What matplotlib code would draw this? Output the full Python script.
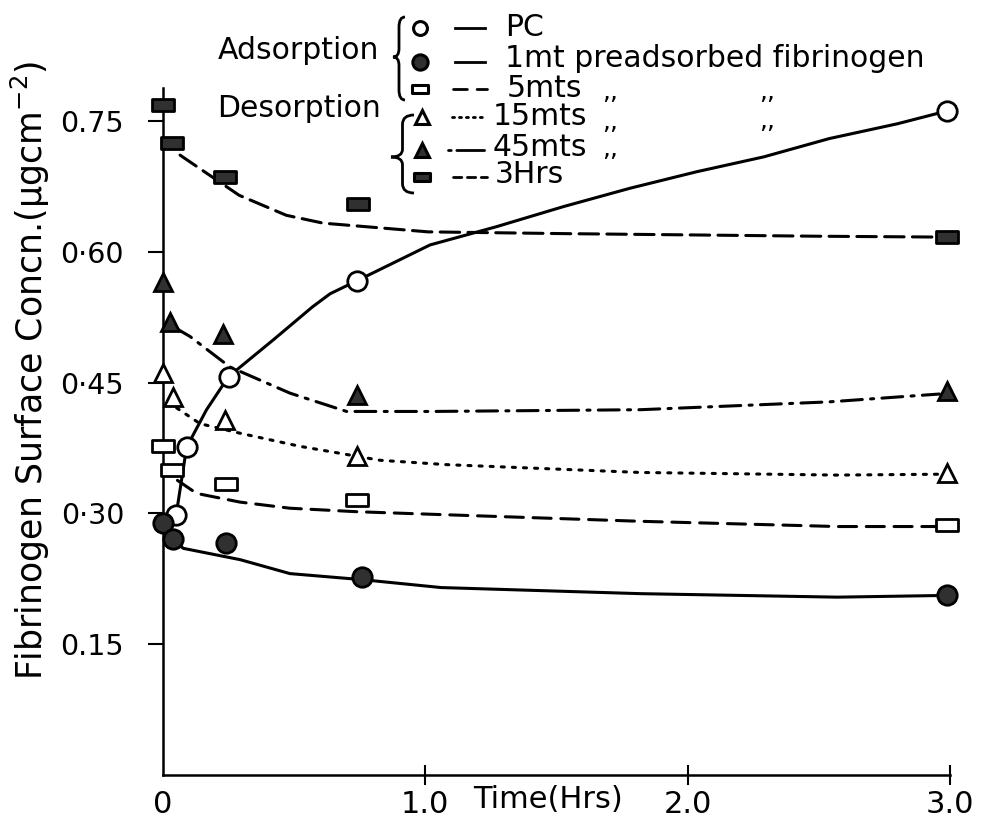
import matplotlib.pyplot as plt
from matplotlib.path import Path
import matplotlib.patches as mpatches

plt.rcParams['font.family'] = 'DejaVu Sans'
plt.rcParams['mathtext.default'] = 'regular'
plt.rcParams['lines.scale_dashes'] = False

# measured points (time in hrs, fibrinogen in ug/cm2)
t_pc = [0.05, 0.09, 0.25, 0.74, 2.99]
v_pc = [0.298, 0.376, 0.457, 0.567, 0.762]
t_1mt = [0.0, 0.039, 0.24, 0.76, 2.99]
v_1mt = [0.289, 0.271, 0.266, 0.227, 0.207]
t_5mts = [0.0, 0.033, 0.24, 0.74, 2.99]
v_5mts = [0.377, 0.350, 0.334, 0.316, 0.287]
t_15mts = [0.0, 0.04, 0.235, 0.74, 2.99]
v_15mts = [0.461, 0.434, 0.407, 0.366, 0.346]
t_45mts = [0.0, 0.027, 0.23, 0.74, 2.99]
v_45mts = [0.566, 0.520, 0.506, 0.436, 0.440]
t_3hrs = [0.0, 0.033, 0.235, 0.745, 2.99]
v_3hrs = [0.768, 0.725, 0.686, 0.655, 0.617]

# hand drawn curves
ct_pc = [0.008, 0.05, 0.09, 0.166, 0.25, 0.42, 0.57, 0.637, 0.74, 1.018, 1.272,
         1.527, 1.78, 2.035, 2.29, 2.54, 2.80, 2.98]
cv_pc = [0.281, 0.298, 0.376, 0.419, 0.457, 0.499, 0.537, 0.552, 0.567, 0.608, 0.629,
         0.652, 0.673, 0.692, 0.709, 0.730, 0.747, 0.761]
ct_1mt = [0.039, 0.077, 0.294, 0.484, 0.761, 1.06, 1.82, 2.57, 2.99]
cv_1mt = [0.271, 0.260, 0.247, 0.231, 0.224, 0.215, 0.208, 0.204, 0.206]
ct_5mts = [0.055, 0.128, 0.294, 0.484, 0.738, 1.03, 1.82, 2.57, 2.96]
cv_5mts = [0.338, 0.323, 0.313, 0.306, 0.302, 0.299, 0.291, 0.285, 0.285]
ct_15mts = [0.052, 0.141, 0.294, 0.522, 0.827, 1.08, 1.82, 2.57, 2.96]
cv_15mts = [0.421, 0.403, 0.392, 0.377, 0.361, 0.356, 0.347, 0.344, 0.345]
ct_45mts = [0.04, 0.103, 0.255, 0.484, 0.70, 1.03, 1.82, 2.54, 2.96]
cv_45mts = [0.514, 0.503, 0.468, 0.438, 0.417, 0.417, 0.419, 0.428, 0.437]
ct_3hrs = [0.065, 0.29, 0.47, 0.61, 1.01, 1.52, 2.49, 2.97]
cv_3hrs = [0.711, 0.665, 0.642, 0.633, 0.623, 0.621, 0.618, 0.617]

labels = ['PC', '1mt preadsorbed fibrinogen', '5mts', '15mts', '45mts', '3Hrs']
yticks = [0.15, 0.30, 0.45, 0.60, 0.75]
ytick_labels = ['0.15', '0·30', '0·45', '0·60', '0.75']
xticks = [0, 1, 2, 3]
xtick_labels = ['0', '1.0', '2.0', '3.0']

rect = Path([(-1, -0.5), (1, -0.5), (1, 0.5), (-1, 0.5), (-1, -0.5)],
            [Path.MOVETO, Path.LINETO, Path.LINETO, Path.LINETO, Path.CLOSEPOLY])
dark = '#303030'
styles = [
    dict(marker='o', ms=14, mfc='white', dashes=None),
    dict(marker='o', ms=14, mfc=dark, dashes=None),
    dict(marker=rect, ms=16, mfc='white', dashes=(13, 7)),
    dict(marker='^', ms=13, mfc='white', dashes=(2.2, 5.8)),
    dict(marker='^', ms=13, mfc=dark, dashes=(15, 6, 2.2, 6)),
    dict(marker=rect, ms=16, mfc=dark, dashes=(14, 6)),
]
points = [(t_pc, v_pc), (t_1mt, v_1mt), (t_5mts, v_5mts),
          (t_15mts, v_15mts), (t_45mts, v_45mts), (t_3hrs, v_3hrs)]
curves = [(ct_pc, cv_pc), (ct_1mt, cv_1mt), (ct_5mts, cv_5mts),
          (ct_15mts, cv_15mts), (ct_45mts, cv_45mts), (ct_3hrs, cv_3hrs)]

fig = plt.figure(figsize=(9.81, 8.23), dpi=100)
ax = fig.add_axes([163 / 981, 1 - 775 / 823, (950 - 163) / 981, (775 - 88) / 823])
ax.set_xlim(0, 3.0)
ax.set_ylim(0, 0.788)

for (ct, cv), (t, v), st in zip(curves, points, styles):
    line, = ax.plot(ct, cv, color='black', lw=2.2, solid_capstyle='round',
                    solid_joinstyle='round', dash_capstyle='round')
    if st['dashes'] is not None:
        line.set_dashes(st['dashes'])
    ax.plot(t, v, ls='none', marker=st['marker'], ms=st['ms'], mfc=st['mfc'],
            mec='black', mew=2.0, clip_on=False, zorder=4)

for side in ['top', 'right']:
    ax.spines[side].set_visible(False)
for side in ['left', 'bottom']:
    ax.spines[side].set_linewidth(1.8)
ax.set_yticks(yticks)
ax.set_yticklabels(ytick_labels)
ax.set_xticks(xticks)
ax.set_xticklabels(xtick_labels)
ax.tick_params(axis='y', direction='out', length=11, width=1.5, pad=17, labelsize=20.5)
ax.tick_params(axis='x', direction='inout', length=14, width=1.5, pad=4, labelsize=22)
ax.xaxis.get_major_ticks()[0].tick1line.set_visible(False)

fig.text(30 / 981, 1 - 370 / 823, 'Fibrinogen Surface Concn.(µgcm$^{-2}$)',
         rotation=90, ha='center', va='center', fontsize=25)

# overlay in pixel coordinates for the hand lettered legend
lax = fig.add_axes([0, 0, 1, 1])
lax.set_xlim(0, 981)
lax.set_ylim(823, 0)
lax.axis('off')

lax.text(548, 800, 'Time(Hrs)', ha='center', va='center', fontsize=22)
lax.text(218, 50, 'Adsorption', ha='left', va='center', fontsize=21.5)
lax.text(217, 108, 'Desorption', ha='left', va='center', fontsize=21.5)


def brace(xr, xl, yt, yb, ym):
    xm = (xr + xl) / 2
    h = yb - yt
    verts = [(xr, yt), (xm, yt), (xm, yt + 0.12 * h),
             (xm, ym - 0.1 * h),
             (xm, ym), (xl, ym),
             (xm, ym), (xm, ym + 0.1 * h),
             (xm, yb - 0.12 * h),
             (xm, yb), (xr, yb)]
    codes = [Path.MOVETO, Path.CURVE3, Path.CURVE3, Path.LINETO,
             Path.CURVE3, Path.CURVE3, Path.CURVE3, Path.CURVE3,
             Path.LINETO, Path.CURVE3, Path.CURVE3]
    lax.add_patch(mpatches.PathPatch(Path(verts, codes), fill=False, lw=2, color='black'))


brace(405, 393, 17, 100, 57)
brace(414, 391, 115, 193, 157)

row_y = [28, 62, 89, 117, 150, 177]
mark_x = [420, 420, 420, 422, 422, 422]
text_x = [505, 505, 507, 493, 493, 495]
text_y = [27, 58, 88, 116, 147, 174]
leg_dashes = [None, None, (10, 7), (1.5, 3.5), (2, 4, 20, 100), (6, 4)]
leg_x0 = [455, 455, 453, 452, 448, 453]
leg_x1 = [485, 485, 487, 483, 485, 487]
leg_ms = [10, 11, 12, 10, 10, 12]
for i, lab in enumerate(labels):
    st = styles[i]
    lax.plot([mark_x[i]], [row_y[i]], ls='none', marker=st['marker'], ms=leg_ms[i],
             mfc=st['mfc'], mec='black', mew=2.2)
    ln, = lax.plot([leg_x0[i], leg_x1[i]], [row_y[i], row_y[i]], color='black', lw=2,
                   dash_capstyle='round')
    if leg_dashes[i] is not None:
        ln.set_dashes(leg_dashes[i])
    lax.text(text_x[i], text_y[i], lab, ha='left', va='center', fontsize=21.5)

for x, y in [(610, 99), (767, 99), (610, 129), (767, 128), (610, 156)]:
    lax.text(x, y, ',,', ha='center', va='baseline', fontsize=18)

fig.savefig('out.png', dpi=100)
